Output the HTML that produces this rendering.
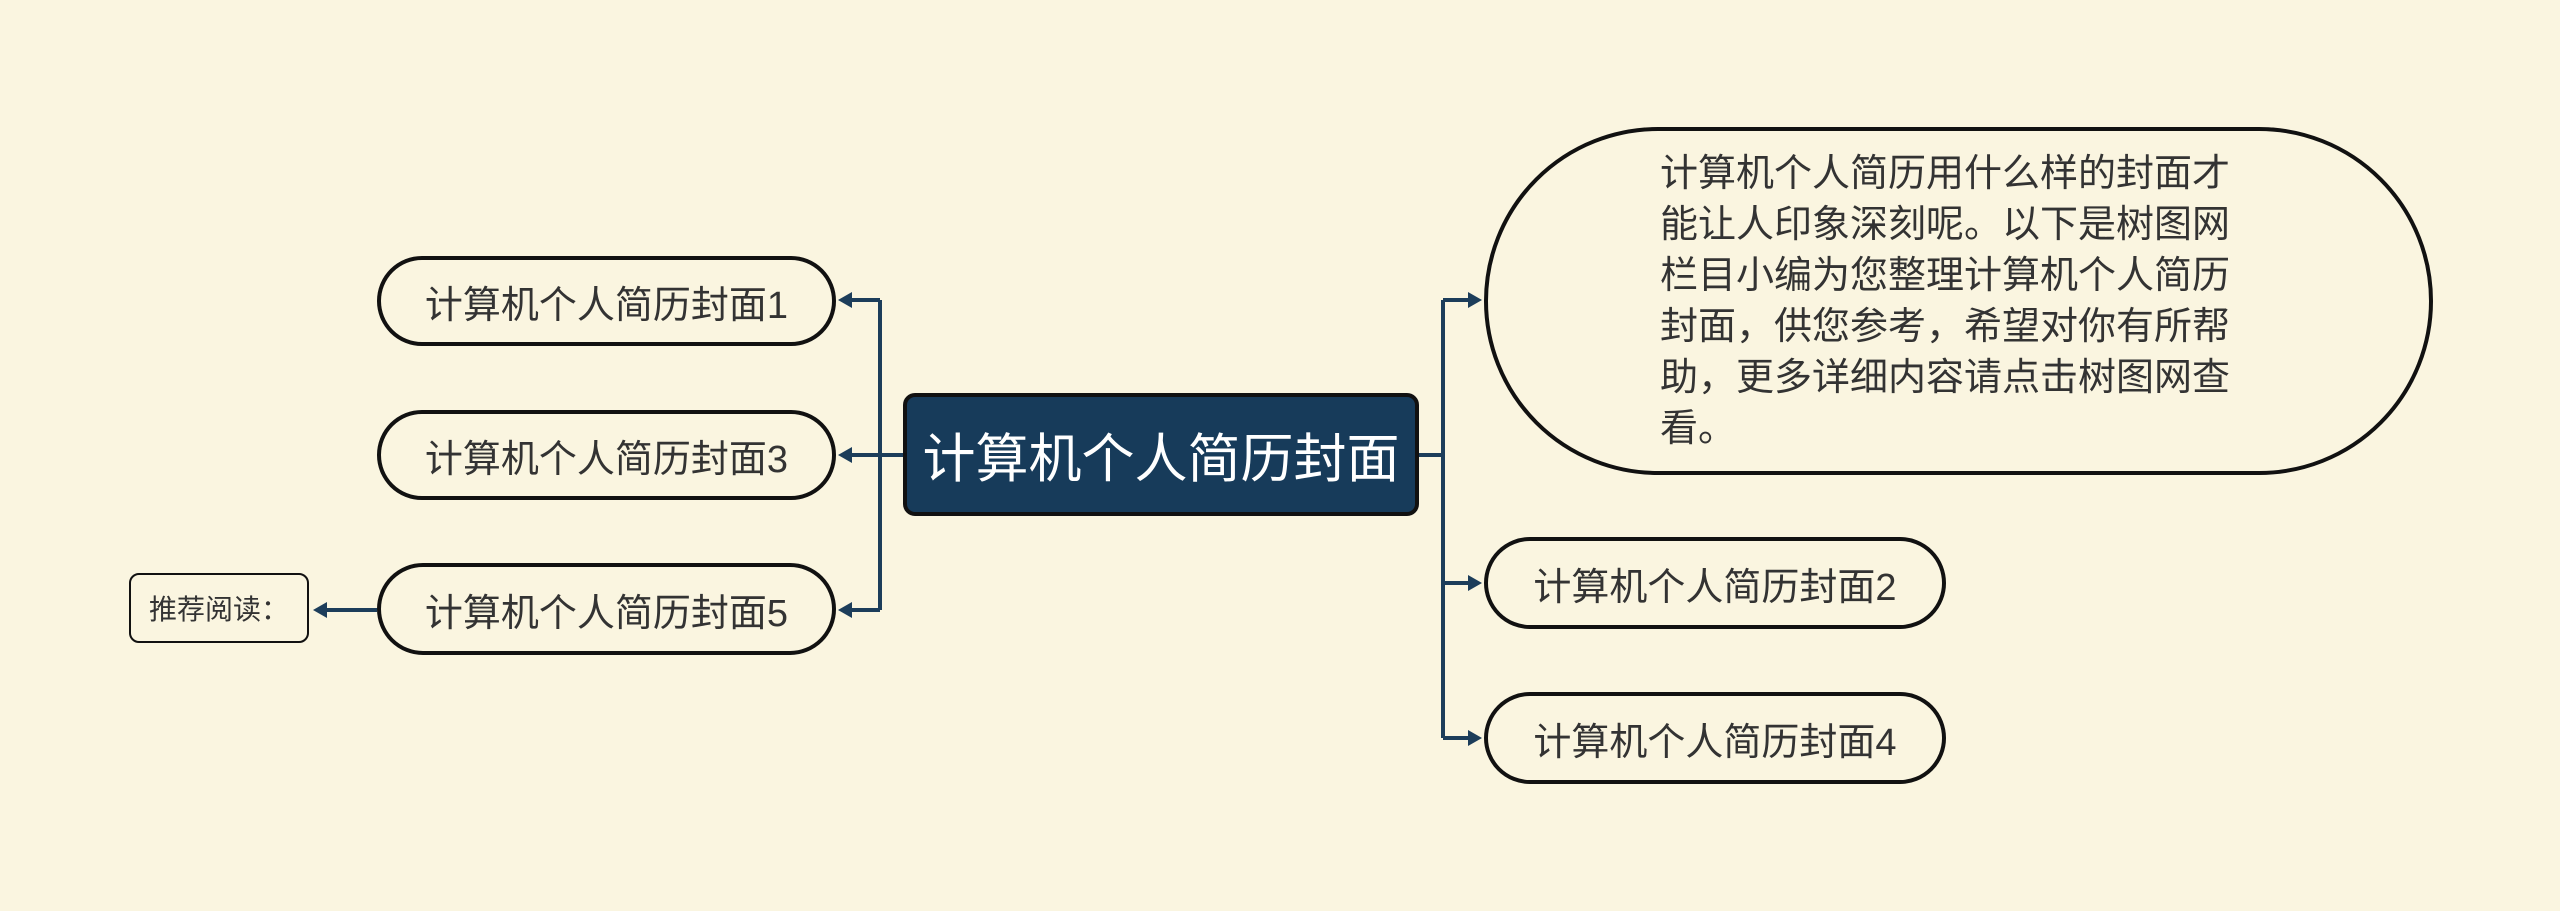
<!DOCTYPE html>
<html><head><meta charset="utf-8"><style>
body{margin:0;width:2560px;height:911px;background:#faf5e0;position:relative;overflow:hidden;font-family:"Liberation Sans","Noto Sans CJK SC",sans-serif;}
.n{position:absolute;box-sizing:border-box;border:4px solid #111;background:#faf5e0;display:flex;align-items:center;justify-content:center;color:#333;}
.p{border-radius:50px;font-size:38px;}
</style></head><body>
<svg width="2560" height="911" style="position:absolute;left:0;top:0">
<g stroke="#1c3d5a" stroke-width="4" fill="none">
<path d="M903 455 H880 M880 300 V610 M880 300 H850 M880 455 H850 M880 610 H850"/>
<path d="M377 610 H325"/>
<path d="M1419 455 H1443 M1443 300 V738 M1443 300 H1470 M1443 583 H1470 M1443 738 H1470"/>
</g>
<g fill="#1c3d5a">
<path d="M838 300 l14 -8 v16z M838 455 l14 -8 v16z M838 610 l14 -8 v16z M313 610 l14 -8 v16z"/>
<path d="M1482 300 l-14 -8 v16z M1482 583 l-14 -8 v16z M1482 738 l-14 -8 v16z"/>
</g>
</svg>
<div class="n p" style="left:377px;top:256px;width:459px;height:90px">计算机个人简历封面1</div>
<div class="n p" style="left:377px;top:410px;width:459px;height:90px">计算机个人简历封面3</div>
<div class="n p" style="left:377px;top:563px;width:459px;height:92px">计算机个人简历封面5</div>
<div class="n" style="left:129px;top:573px;width:180px;height:70px;border-width:2px;border-radius:10px;font-size:28px">推荐阅读：</div>
<div class="n" style="left:903px;top:393px;width:516px;height:123px;background:#173b5a;border-radius:12px;color:#fff;font-size:53px">计算机个人简历封面</div>
<div class="n" style="left:1484px;top:127px;width:949px;height:348px;border-radius:174px;display:block;padding:18px 0 0 172px;font-size:38px;line-height:51px">计算机个人简历用什么样的封面才<br>能让人印象深刻呢。以下是树图网<br>栏目小编为您整理计算机个人简历<br>封面，供您参考，希望对你有所帮<br>助，更多详细内容请点击树图网查<br>看。</div>
<div class="n p" style="left:1484px;top:537px;width:462px;height:92px">计算机个人简历封面2</div>
<div class="n p" style="left:1484px;top:692px;width:462px;height:92px">计算机个人简历封面4</div>
</body></html>
